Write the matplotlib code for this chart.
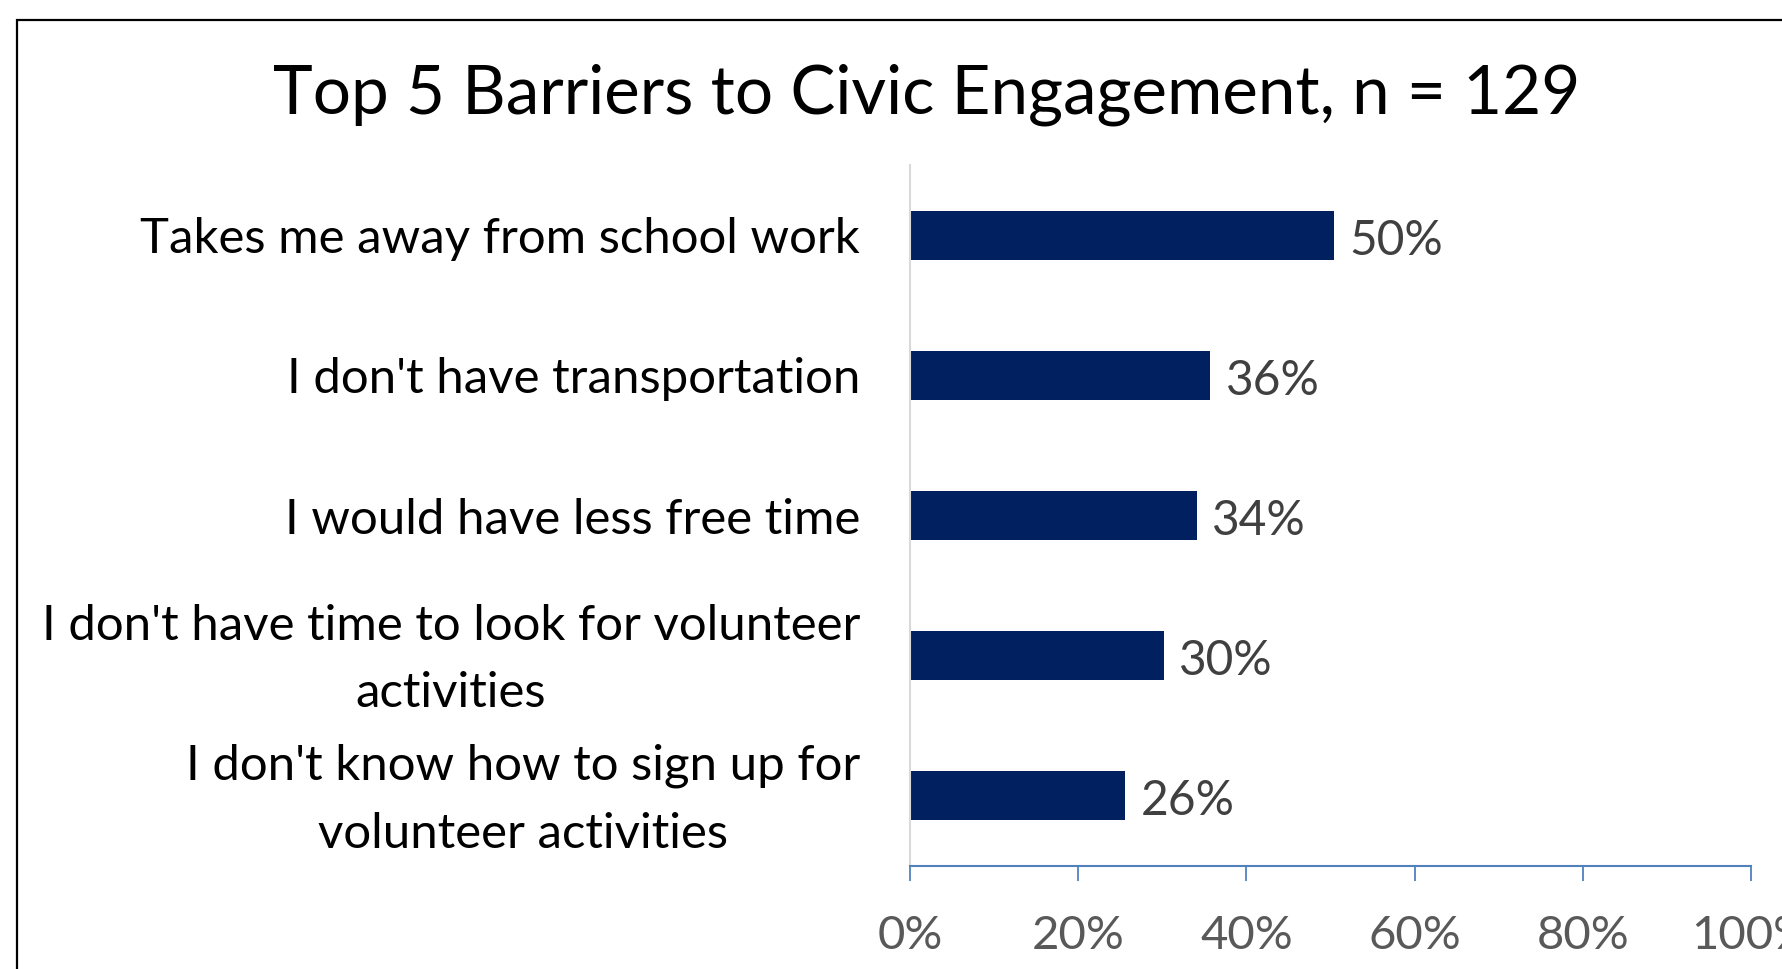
import matplotlib
matplotlib.use('Agg')
import matplotlib.pyplot as plt
import matplotlib.transforms as mtransforms
from matplotlib.patches import Rectangle
from matplotlib.ticker import PercentFormatter

plt.rcParams['font.family'] = ['Lato', 'DejaVu Sans']

# data (share of n = 129 respondents)
categories = ['Takes me away from school work',
              "I don't have transportation",
              'I would have less free time',
              "I don't have time to look for volunteer\nactivities",
              "I don't know how to sign up for\nvolunteer activities"]
values = [50.4, 35.7, 34.1, 30.2, 25.6]
labels = ['50%', '36%', '34%', '30%', '26%']
xticks = [0, 20, 40, 60, 80, 100]

fig = plt.figure(figsize=(17.82, 9.69), dpi=100)

# chart frame (cropped on right and bottom)
fig.patches.append(Rectangle((17/1782, -0.1), 1.2, 1.1 - 20/969, transform=fig.transFigure,
                             fill=False, edgecolor='black', linewidth=1.6))

ax = fig.add_axes([910/1782, 1 - 866/969, 841/1782, 701/969])
pos = range(len(categories))
ax.barh(pos, values, height=0.35, color='#002060')
ax.set_ylim(-0.5, len(categories) - 0.5)
ax.invert_yaxis()
ax.set_xlim(0, 100)

for i, (v, lab) in enumerate(zip(values, labels)):
    ax.annotate(lab, (v, i), xytext=(11, -4), textcoords='offset points',
                va='center', ha='left', fontsize=34.5, color='#404040')

ax.set_yticks(list(pos))
ax.set_yticklabels(categories, fontsize=35.4, multialignment='center', linespacing=1.65)
ax.tick_params(axis='y', length=0, pad=36)
# two-line labels sit a bit low, nudge them up
shift = mtransforms.ScaledTranslation(0, 8.5/72, fig.dpi_scale_trans)
for t in ax.get_yticklabels():
    if '\n' in t.get_text():
        t.set_transform(t.get_transform() + shift)

ax.set_xticks(xticks)
ax.xaxis.set_major_formatter(PercentFormatter(decimals=0))
ax.tick_params(axis='x', direction='out', length=11, width=1.3, color='#4F81BD',
               labelsize=34, labelcolor='#595959', pad=24)

for s in ['top', 'right']:
    ax.spines[s].set_visible(False)
ax.spines['left'].set_color('#D9D9D9')
ax.spines['left'].set_linewidth(1.5)
ax.spines['bottom'].set_color('#4F81BD')
ax.spines['bottom'].set_linewidth(1.5)

fig.text(927/1782, 1 - 114/969, 'Top 5 Barriers to Civic Engagement, n = 129',
         ha='center', va='baseline', fontsize=48.5, color='black')

fig.savefig('out.png', dpi=100)
